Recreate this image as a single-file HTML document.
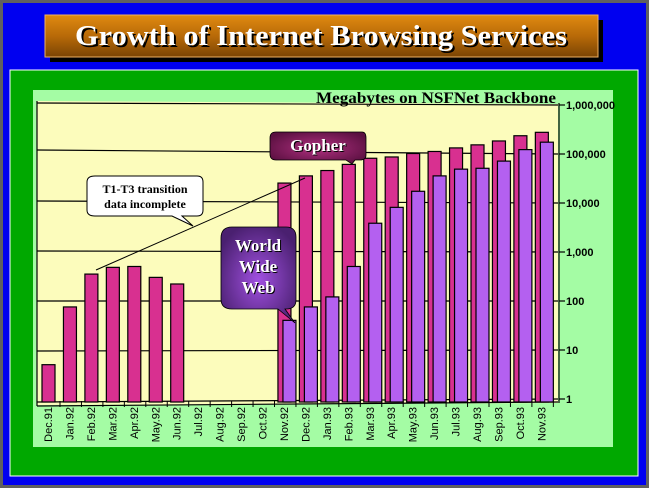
<!DOCTYPE html>
<html><head><meta charset="utf-8"><style>
html,body{margin:0;padding:0;width:649px;height:488px;overflow:hidden;background:#0000f0}
</style></head><body>
<svg width="649" height="488" viewBox="0 0 649 488" xmlns="http://www.w3.org/2000/svg">
<defs>
<linearGradient id="tg" x1="0" y1="0" x2="0" y2="1">
<stop offset="0" stop-color="#e08a10"/><stop offset="0.5" stop-color="#b86a08"/><stop offset="1" stop-color="#7a4404"/></linearGradient>
<radialGradient id="wg" cx="0.5" cy="0.55" r="0.6"><stop offset="0" stop-color="#a050e0"/><stop offset="1" stop-color="#4a2070"/></radialGradient>
<radialGradient id="gg" cx="0.5" cy="0.5" r="0.6"><stop offset="0" stop-color="#b03080"/><stop offset="1" stop-color="#5a1040"/></radialGradient>
</defs>
<rect x="0" y="0" width="649" height="488" fill="#606060"/>
<rect x="3" y="3" width="643" height="482" fill="#0000f0"/>
<!-- title -->
<rect x="50" y="20" width="553" height="42" fill="#000"/>
<rect x="45" y="15" width="553" height="42" fill="url(#tg)" stroke="#f0b060" stroke-width="1"/>
<text x="77" y="47" textLength="492" lengthAdjust="spacingAndGlyphs" font-family="Liberation Serif, serif" font-weight="bold" font-size="28" fill="#000">Growth of Internet Browsing Services</text>
<text x="75" y="45" textLength="492" lengthAdjust="spacingAndGlyphs" font-family="Liberation Serif, serif" font-weight="bold" font-size="28" fill="#fff">Growth of Internet Browsing Services</text>
<!-- panels -->
<rect x="10" y="70" width="628" height="406" fill="#00a800" stroke="#fff" stroke-width="1"/>
<rect x="33" y="90" width="580" height="357" fill="#a4fca4"/>
<polygon points="37,101 558,104 558,403 37,405" fill="#fcfcbc"/>
<text x="316" y="103" textLength="240" lengthAdjust="spacingAndGlyphs" font-family="Liberation Serif, serif" font-weight="bold" font-size="16" fill="#000">Megabytes on NSFNet Backbone</text>
<g stroke="#000" stroke-width="1.2" fill="none">
<line x1="37" y1="103" x2="558" y2="105"/>
<line x1="37" y1="150" x2="558" y2="154"/>
<line x1="37" y1="201" x2="558" y2="203"/>
<line x1="37" y1="251" x2="558" y2="252"/>
<line x1="37" y1="301" x2="558" y2="301"/>
<line x1="37" y1="351" x2="558" y2="350"/>
<line x1="37" y1="402" x2="558" y2="399"/>
<line x1="37" y1="406" x2="558" y2="402"/>
<line x1="559" y1="103" x2="559" y2="403"/>
<line x1="37" y1="101" x2="37" y2="406"/>
</g>
<g stroke="#000" stroke-width="1.2">
<line x1="559" y1="105" x2="565" y2="105"/><line x1="559" y1="154" x2="565" y2="154"/>
<line x1="559" y1="203" x2="565" y2="203"/><line x1="559" y1="252" x2="565" y2="252"/>
<line x1="559" y1="301" x2="565" y2="301"/><line x1="559" y1="350" x2="565" y2="350"/>
<line x1="559" y1="399" x2="565" y2="399"/>
</g>
<g font-family="Liberation Sans, sans-serif" font-weight="bold" font-size="11" fill="#000">
<text x="566" y="109">1,000,000</text><text x="566" y="158">100,000</text>
<text x="566" y="207">10,000</text><text x="566" y="256">1,000</text>
<text x="566" y="305">100</text><text x="566" y="354">10</text><text x="566" y="403">1</text>
</g>
<g id="bars" stroke="#000" stroke-width="1.2"></g>
<g id="labels" font-family="Liberation Sans, sans-serif" font-size="11" fill="#000"></g>
<!-- diagonal line -->
<line x1="96" y1="270" x2="305" y2="178" stroke="#000" stroke-width="1"/>
<!-- T1-T3 bubble -->
<path d="M95,176 H197 Q203,176 203,182 V210 Q203,216 197,216 H182 L193,226 L172,216 H95 Q87,216 87,210 V182 Q87,176 95,176 Z" fill="#fff" stroke="#000" stroke-width="1"/>
<text x="145" y="193" text-anchor="middle" font-family="Liberation Serif, serif" font-weight="bold" font-size="12">T1-T3 transition</text>
<text x="145" y="208" text-anchor="middle" font-family="Liberation Serif, serif" font-weight="bold" font-size="12">data incomplete</text>
<!-- Gopher -->
<path d="M276,132 H362 Q366,132 366,138 V155 Q366,160 360,160 H355 L352,164 L346,160 H276 Q270,160 270,154 V138 Q270,132 276,132 Z" fill="url(#gg)" stroke="#000" stroke-width="0.8"/>
<text x="319" y="152" text-anchor="middle" font-family="Liberation Serif, serif" font-weight="bold" font-size="17" fill="#000">Gopher</text>
<text x="318" y="151" text-anchor="middle" font-family="Liberation Serif, serif" font-weight="bold" font-size="17" fill="#fff">Gopher</text>
<!-- WWW -->
<path d="M232,227 H286 Q296,227 296,237 V300 Q296,309 286,309 H285 L295,323 L278,309 H232 Q221,309 221,299 V238 Q221,227 232,227 Z" fill="url(#wg)" stroke="#000" stroke-width="0.8"/>
<g font-family="Liberation Serif, serif" font-weight="bold" font-size="17" text-anchor="middle">
<text x="259" y="252" fill="#000">World</text><text x="258" y="251" fill="#fff">World</text>
<text x="259" y="273" fill="#000">Wide</text><text x="258" y="272" fill="#fff">Wide</text>
<text x="259" y="294" fill="#000">Web</text><text x="258" y="293" fill="#fff">Web</text>
</g>
<script>
var months=["Dec.91","Jan.92","Feb.92","Mar.92","Apr.92","May.92","Jun.92","Jul.92","Aug.92","Sep.92","Oct.92","Nov.92","Dec.92","Jan.93","Feb.93","Mar.93","Apr.93","May.93","Jun.93","Jul.93","Aug.93","Sep.93","Oct.93","Nov.93"];
var g=[5,75,350,480,500,300,220,0,0,0,0,25000,35000,45000,60000,80000,85000,100000,110000,130000,150000,180000,230000,270000];
var w=[0,0,0,0,0,0,0,0,0,0,0,40,75,120,500,3800,8000,17000,35000,48000,50000,70000,120000,170000];
var NS="http://www.w3.org/2000/svg";
var bars=document.getElementById("bars"),labels=document.getElementById("labels");
function Y(v){return 399-49.1*Math.log(v)/Math.LN10;}
function rect(x,y,wd,h,f){var r=document.createElementNS(NS,"rect");r.setAttribute("x",x);r.setAttribute("y",y);r.setAttribute("width",wd);r.setAttribute("height",h);r.setAttribute("fill",f);bars.appendChild(r);}
for(var i=0;i<24;i++){
 var c=50+21.45*i;
 if(g[i]>0){var y=Y(g[i]);rect(c-8,y,13,402-y,"#d83090");}
 if(w[i]>0){var y2=Y(w[i]);rect(c-3,y2,13,402-y2,"#b460f0");}
 var t=document.createElementNS(NS,"text");
 t.setAttribute("transform","translate("+(c+2)+",407) rotate(-90)");
 t.setAttribute("text-anchor","end");t.textContent=months[i];labels.appendChild(t);
 var tk=document.createElementNS(NS,"line");tk.setAttribute("x1",c+10);tk.setAttribute("x2",c+10);tk.setAttribute("y1",401);tk.setAttribute("y2",407);tk.setAttribute("stroke","#000");labels.appendChild(tk);
}
</script>
</svg>
</body></html>
